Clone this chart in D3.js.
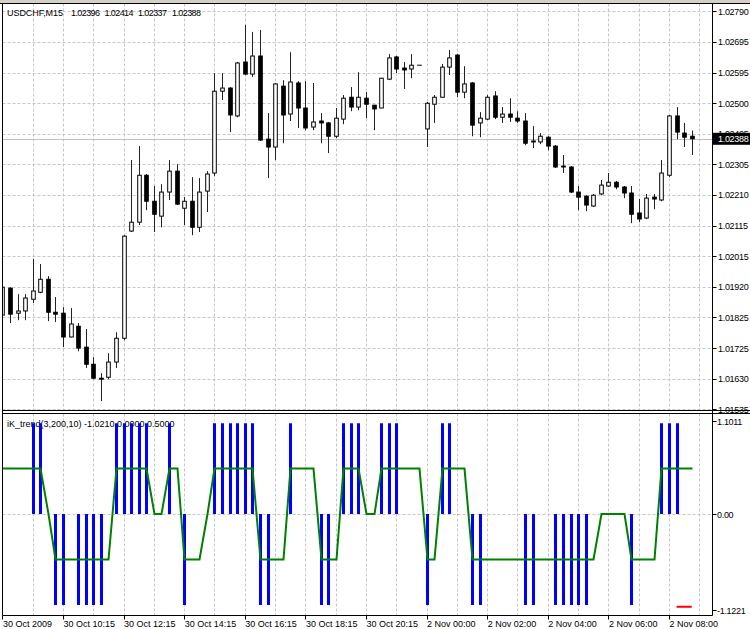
<!DOCTYPE html>
<html><head><meta charset="utf-8">
<script src="https://cdn.jsdelivr.net/npm/d3@7"></script>
<style>
body{margin:0;background:#fff}
svg{display:block}
text{font-family:"Liberation Sans",Arial,sans-serif;font-size:9px;fill:#000;white-space:pre}
</style>
</head><body><svg id="c" width="750" height="629"></svg>
<script>
// ---------- DATA ----------
const symbolName = "USDCHF,M15";
const headerValues = ["1.02396","1.02414","1.02337","1.02388"];
const indicatorTitle = "iK_trend(3,200,10) -1.0210 0.0000 0.5000";
const lastPrice = 1.02388;

const opens = [1.01832,1.01917,1.01838,1.01845,1.01882,1.01904,1.01945,1.01841,1.01838,1.01763,
1.01797,1.01731,1.01677,1.01633,1.01636,1.01684,1.01759,1.02097,1.02125,1.02273,
1.02191,1.02144,1.02220,1.02286,1.02169,1.02191,1.02109,1.02223,1.02280,1.02538,
1.02548,1.02460,1.02630,1.02592,1.02649,1.02387,1.02362,1.02554,1.02466,1.02564,
1.02485,1.02425,1.02444,1.02438,1.02396,1.02450,1.02519,1.02488,1.02516,1.02494,
1.02485,1.02576,1.02646,1.02611,1.02608,1.02620,1.02419,1.02497,1.02519,1.02614,
1.02652,1.02535,1.02564,1.02438,1.02450,1.02523,1.02456,1.02466,1.02453,1.02444,
1.02381,1.02378,1.02393,1.02365,1.02302,1.02299,1.02220,1.02207,1.02176,1.02214,
1.02239,1.02251,1.02236,1.02217,1.02154,1.02138,1.02204,1.02195,1.02273,1.02460,
1.02406,1.02396];
const highs = [1.01927,1.01920,1.01898,1.01898,1.02009,1.01993,1.01955,1.01889,1.01857,1.01854,
1.01807,1.01788,1.01699,1.01649,1.01712,1.01778,1.02084,1.02321,1.02365,1.02277,
1.02239,1.02245,1.02321,1.02308,1.02204,1.02267,1.02264,1.02286,1.02595,1.02595,
1.02551,1.02630,1.02747,1.02725,1.02731,1.02469,1.02564,1.02573,1.02661,1.02570,
1.02570,1.02564,1.02469,1.02441,1.02485,1.02526,1.02551,1.02598,1.02535,1.02494,
1.02579,1.02655,1.02649,1.02630,1.02655,1.02620,1.02504,1.02526,1.02624,1.02668,
1.02655,1.02617,1.02567,1.02472,1.02526,1.02538,1.02488,1.02516,1.02475,1.02469,
1.02428,1.02406,1.02396,1.02368,1.02337,1.02302,1.02239,1.02210,1.02214,1.02258,
1.02280,1.02255,1.02239,1.02239,1.02198,1.02214,1.02214,1.02321,1.02463,1.02488,
1.02438,1.02414];
const lows = [1.01822,1.01807,1.01816,1.01816,1.01870,1.01901,1.01813,1.01810,1.01731,1.01762,
1.01718,1.01665,1.01630,1.01561,1.01630,1.01665,1.01753,1.02094,1.02116,1.02163,
1.02094,1.02109,1.02195,1.02179,1.02116,1.02084,1.02094,1.02157,1.02270,1.02510,
1.02409,1.02456,1.02589,1.02583,1.02381,1.02264,1.02321,1.02374,1.02444,1.02422,
1.02415,1.02415,1.02374,1.02343,1.02390,1.02434,1.02475,1.02478,1.02453,1.02415,
1.02485,1.02573,1.02595,1.02545,1.02579,1.02620,1.02362,1.02438,1.02519,1.02589,
1.02519,1.02516,1.02396,1.02393,1.02447,1.02450,1.02438,1.02441,1.02438,1.02368,
1.02359,1.02371,1.02352,1.02296,1.02280,1.02217,1.02163,1.02160,1.02173,1.02210,
1.02236,1.02229,1.02201,1.02122,1.02125,1.02135,1.02166,1.02191,1.02267,1.02387,
1.02362,1.02337];
const closes = [1.01920,1.01835,1.01845,1.01886,1.01908,1.01945,1.01841,1.01835,1.01763,1.01804,
1.01728,1.01677,1.01633,1.01630,1.01684,1.01759,1.02081,1.02125,1.02273,1.02191,
1.02150,1.02220,1.02286,1.02182,1.02191,1.02109,1.02220,1.02277,1.02538,1.02548,
1.02463,1.02627,1.02592,1.02649,1.02384,1.02362,1.02561,1.02463,1.02567,1.02485,
1.02422,1.02441,1.02438,1.02396,1.02453,1.02516,1.02488,1.02519,1.02497,1.02482,
1.02579,1.02643,1.02608,1.02605,1.02620,1.02620,1.02500,1.02519,1.02614,1.02643,
1.02535,1.02561,1.02431,1.02453,1.02519,1.02456,1.02466,1.02456,1.02444,1.02374,
1.02378,1.02396,1.02365,1.02299,1.02299,1.02220,1.02204,1.02179,1.02210,1.02242,
1.02251,1.02236,1.02217,1.02150,1.02135,1.02201,1.02198,1.02280,1.02460,1.02409,
1.02393,1.02388];

// iK_trend buffers
const trendHist = [0,0,0,0,1,1,0,-1,-1,0, -1,-1,-1,-1,0,1,1,1,1,1, 0,0,1,0,-1,0,0,0,1,1,
1,1,1,1,-1,-1,0,0,1,0, 0,0,-1,-1,0,1,1,1,0,0, 1,1,1,0,0,0,-1,0,1,1,
0,0,-1,-1,0,0,0,0,0,-1, -1,0,0,-1,-1,-1,-1,-1,0,0, 0,0,0,-1,0,0,0,1,1,1, 0,0];
const trendLine = [0.5,0.5,0.5,0.5,0.5,0.5,0,-0.5,-0.5,-0.5, -0.5,-0.5,-0.5,-0.5,-0.5,0.5,0.5,0.5,0.5,0.5,
0,0,0.5,0.5,-0.5,-0.5,-0.5,0,0.5,0.5, 0.5,0.5,0.5,0.5,-0.5,-0.5,-0.5,-0.5,0.5,0.5,
0.5,0.5,-0.5,-0.5,-0.5,0.5,0.5,0.5,0,0, 0.5,0.5,0.5,0.5,0.5,0.5,-0.5,-0.5,0.5,0.5,
0.5,0.5,-0.5,-0.5,-0.5,-0.5,-0.5,-0.5,-0.5,-0.5, -0.5,-0.5,-0.5,-0.5,-0.5,-0.5,-0.5,-0.5,-0.5,0,
0,0,0,-0.5,-0.5,-0.5,-0.5,0.5,0.5,0.5, 0.5,0.5];
const signalLine = [{i:89,v:-1.021},{i:90,v:-1.021},{i:91,v:-1.021}];

const priceTickLabels = ["1.02790","1.02695","1.02595","1.02500","1.02405","1.02305","1.02210",
"1.02115","1.02015","1.01920","1.01825","1.01725","1.01630","1.01535"];
const indTicks = [{v:1.1011,t:"1.1011"},{v:0,t:"0.00"},{v:-1.1221,t:"-1.1221"}];
const timeLabels = ["30 Oct 2009","30 Oct 10:15","30 Oct 12:15","30 Oct 14:15","30 Oct 16:15",
"30 Oct 18:15","30 Oct 20:15","2 Nov 00:00","2 Nov 02:00","2 Nov 04:00","2 Nov 06:00","2 Nov 08:00"];
const timeLabelBars = [0,8,16,24,32,40,48,56,64,72,80,88];
const gridBars = d3.range(4, 93, 4);

// ---------- LAYOUT ----------
const L = 2.5, R = 712.5, mainT = 3.5, mainB = 410.5, indT = 413.5, indB = 615.5;
const svg = d3.select("#c");
const x = d3.scaleLinear().domain([0, 91]).range([2.4, 691.7]);
const y = d3.scaleLinear().domain([1.01535, 1.02790]).range([409.3, 11.3]);
const yi = d3.scaleLinear().domain([-1.1221, 1.1011]).range([616, 414]);
const px = v => Math.round(v) + 0.5;

svg.append("rect").attr("width", 750).attr("height", 629).attr("fill", "#fff");

const defs = svg.append("defs");
defs.append("clipPath").attr("id", "cm").append("rect")
  .attr("x", L).attr("y", mainT).attr("width", R - L).attr("height", mainB - mainT);
defs.append("clipPath").attr("id", "ci").append("rect")
  .attr("x", L).attr("y", indT).attr("width", R - L).attr("height", indB - indT);

// grid
const grid = svg.append("g").attr("stroke", "#c6c6c6").attr("stroke-dasharray", "3,2").attr("stroke-width", 1);
gridBars.forEach(i => {
  if (x(i) < R) {
    grid.append("line").attr("x1", px(x(i))).attr("x2", px(x(i))).attr("y1", mainT).attr("y2", mainB);
    grid.append("line").attr("x1", px(x(i))).attr("x2", px(x(i))).attr("y1", indT).attr("y2", indB);
  }
});
const dom = y.domain();
const tickVals = priceTickLabels.map((t, k) => dom[1] - k * (dom[1] - dom[0]) / (priceTickLabels.length - 1));
tickVals.forEach(v => {
  grid.append("line").attr("x1", L).attr("x2", R).attr("y1", px(y(v))).attr("y2", px(y(v)));
});
grid.append("line").attr("x1", L).attr("x2", R).attr("y1", px(yi(0))).attr("y2", px(yi(0)));

// current price line
svg.append("line").attr("x1", L).attr("x2", R).attr("y1", px(y(lastPrice))).attr("y2", px(y(lastPrice)))
  .attr("stroke", "#c0c0c0").attr("stroke-width", 1);

// candles
const bars = opens.map((o, i) => ({i, o, h: highs[i], l: lows[i], c: closes[i]}));
const cg = svg.append("g").attr("clip-path", "url(#cm)");
const bw = 3.6;
cg.selectAll("line.w").data(bars).join("line")
  .attr("x1", d => px(x(d.i))).attr("x2", d => px(x(d.i)))
  .attr("y1", d => y(d.h)).attr("y2", d => y(d.l))
  .attr("stroke", "#222").attr("stroke-width", 1);
cg.selectAll("rect.b").data(bars).join("rect")
  .attr("x", d => px(x(d.i)) - bw / 2).attr("width", bw)
  .attr("y", d => y(Math.max(d.o, d.c)))
  .attr("height", d => Math.max(0.01, Math.abs(y(d.o) - y(d.c))))
  .attr("fill", d => d.c > d.o ? "#fff" : "#000")
  .attr("stroke", "#000").attr("stroke-width", 1);

// indicator
svg.append("text").attr("x", 7).attr("y", 427).text(indicatorTitle);
const ig = svg.append("g").attr("clip-path", "url(#ci)");
ig.selectAll("line.h").data(trendHist.map((v, i) => ({i, v})).filter(d => d.v !== 0)).join("line")
  .attr("x1", d => px(x(d.i))).attr("x2", d => px(x(d.i)))
  .attr("y1", yi(0)).attr("y2", d => yi(d.v))
  .attr("stroke", "#0000ff").attr("stroke-width", 3);
ig.append("path")
  .attr("d", d3.line().x((v, i) => px(x(i))).y(v => yi(v))(trendLine))
  .attr("fill", "none").attr("stroke", "#008000").attr("stroke-width", 2);
ig.append("path")
  .attr("d", d3.line().x(d => x(d.i)).y(d => yi(d.v))(signalLine))
  .attr("fill", "none").attr("stroke", "#ff0000").attr("stroke-width", 2);

// frames
const fr = svg.append("g").attr("stroke", "#000").attr("stroke-width", 1);
fr.append("line").attr("x1", 0).attr("x2", 750).attr("y1", mainT).attr("y2", mainT);
fr.append("line").attr("x1", L).attr("x2", 750).attr("y1", mainB).attr("y2", mainB);
fr.append("line").attr("x1", L).attr("x2", 750).attr("y1", indT).attr("y2", indT);
fr.append("line").attr("x1", L).attr("x2", R).attr("y1", indB).attr("y2", indB);
fr.append("line").attr("x1", L).attr("x2", L).attr("y1", mainT).attr("y2", indB);
fr.append("line").attr("x1", R).attr("x2", R).attr("y1", mainT).attr("y2", indB);
svg.append("rect").attr("x", 0).attr("y", 0).attr("width", 750).attr("height", 3).attr("fill", "#d4d0c8");

// price axis (the label hidden behind the price tag is drawn first, as in the reference)
tickVals.forEach((v, k) => {
  fr.append("line").attr("x1", R).attr("x2", R + 4).attr("y1", px(y(v))).attr("y2", px(y(v)));
  svg.append("text").attr("x", 718).attr("y", y(v) + 3.5).attr("letter-spacing", "-0.3")
    .text(priceTickLabels[k]);
});
// current price tag
svg.append("rect").attr("x", 713).attr("y", y(lastPrice) - 6).attr("width", 37).attr("height", 12).attr("fill", "#000");
svg.append("text").attr("x", 718).attr("y", y(lastPrice) + 3.5).attr("letter-spacing", "-0.3")
  .style("fill", "#fff").text(lastPrice.toFixed(5));

// indicator axis
indTicks.forEach(d => {
  const off = d.v > 0 ? 7 : d.v < 0 ? -6 : 0;
  fr.append("line").attr("x1", R).attr("x2", R + 4).attr("y1", px(yi(d.v) + off)).attr("y2", px(yi(d.v) + off));
  svg.append("text").attr("x", 717).attr("y", yi(d.v) + off + 3.5).attr("letter-spacing", "-0.3").text(d.t);
});

// time axis
timeLabelBars.forEach((b, k) => {
  fr.append("line").attr("x1", px(x(b))).attr("x2", px(x(b))).attr("y1", indB).attr("y2", indB + 4);
  svg.append("text").attr("x", x(b) + 0.5).attr("y", 627).text(timeLabels[k]);
});

// title (symbol + OHLC of the last bar)
const title = svg.append("text").attr("x", 7).attr("y", 16);
title.append("tspan").attr("x", 7).attr("textLength", 56).text(symbolName);
const hx = [71, 104.5, 138, 172];
headerValues.forEach((t, k) => title.append("tspan").attr("x", hx[k]).attr("textLength", 29).text(t));
</script>
</body></html>
